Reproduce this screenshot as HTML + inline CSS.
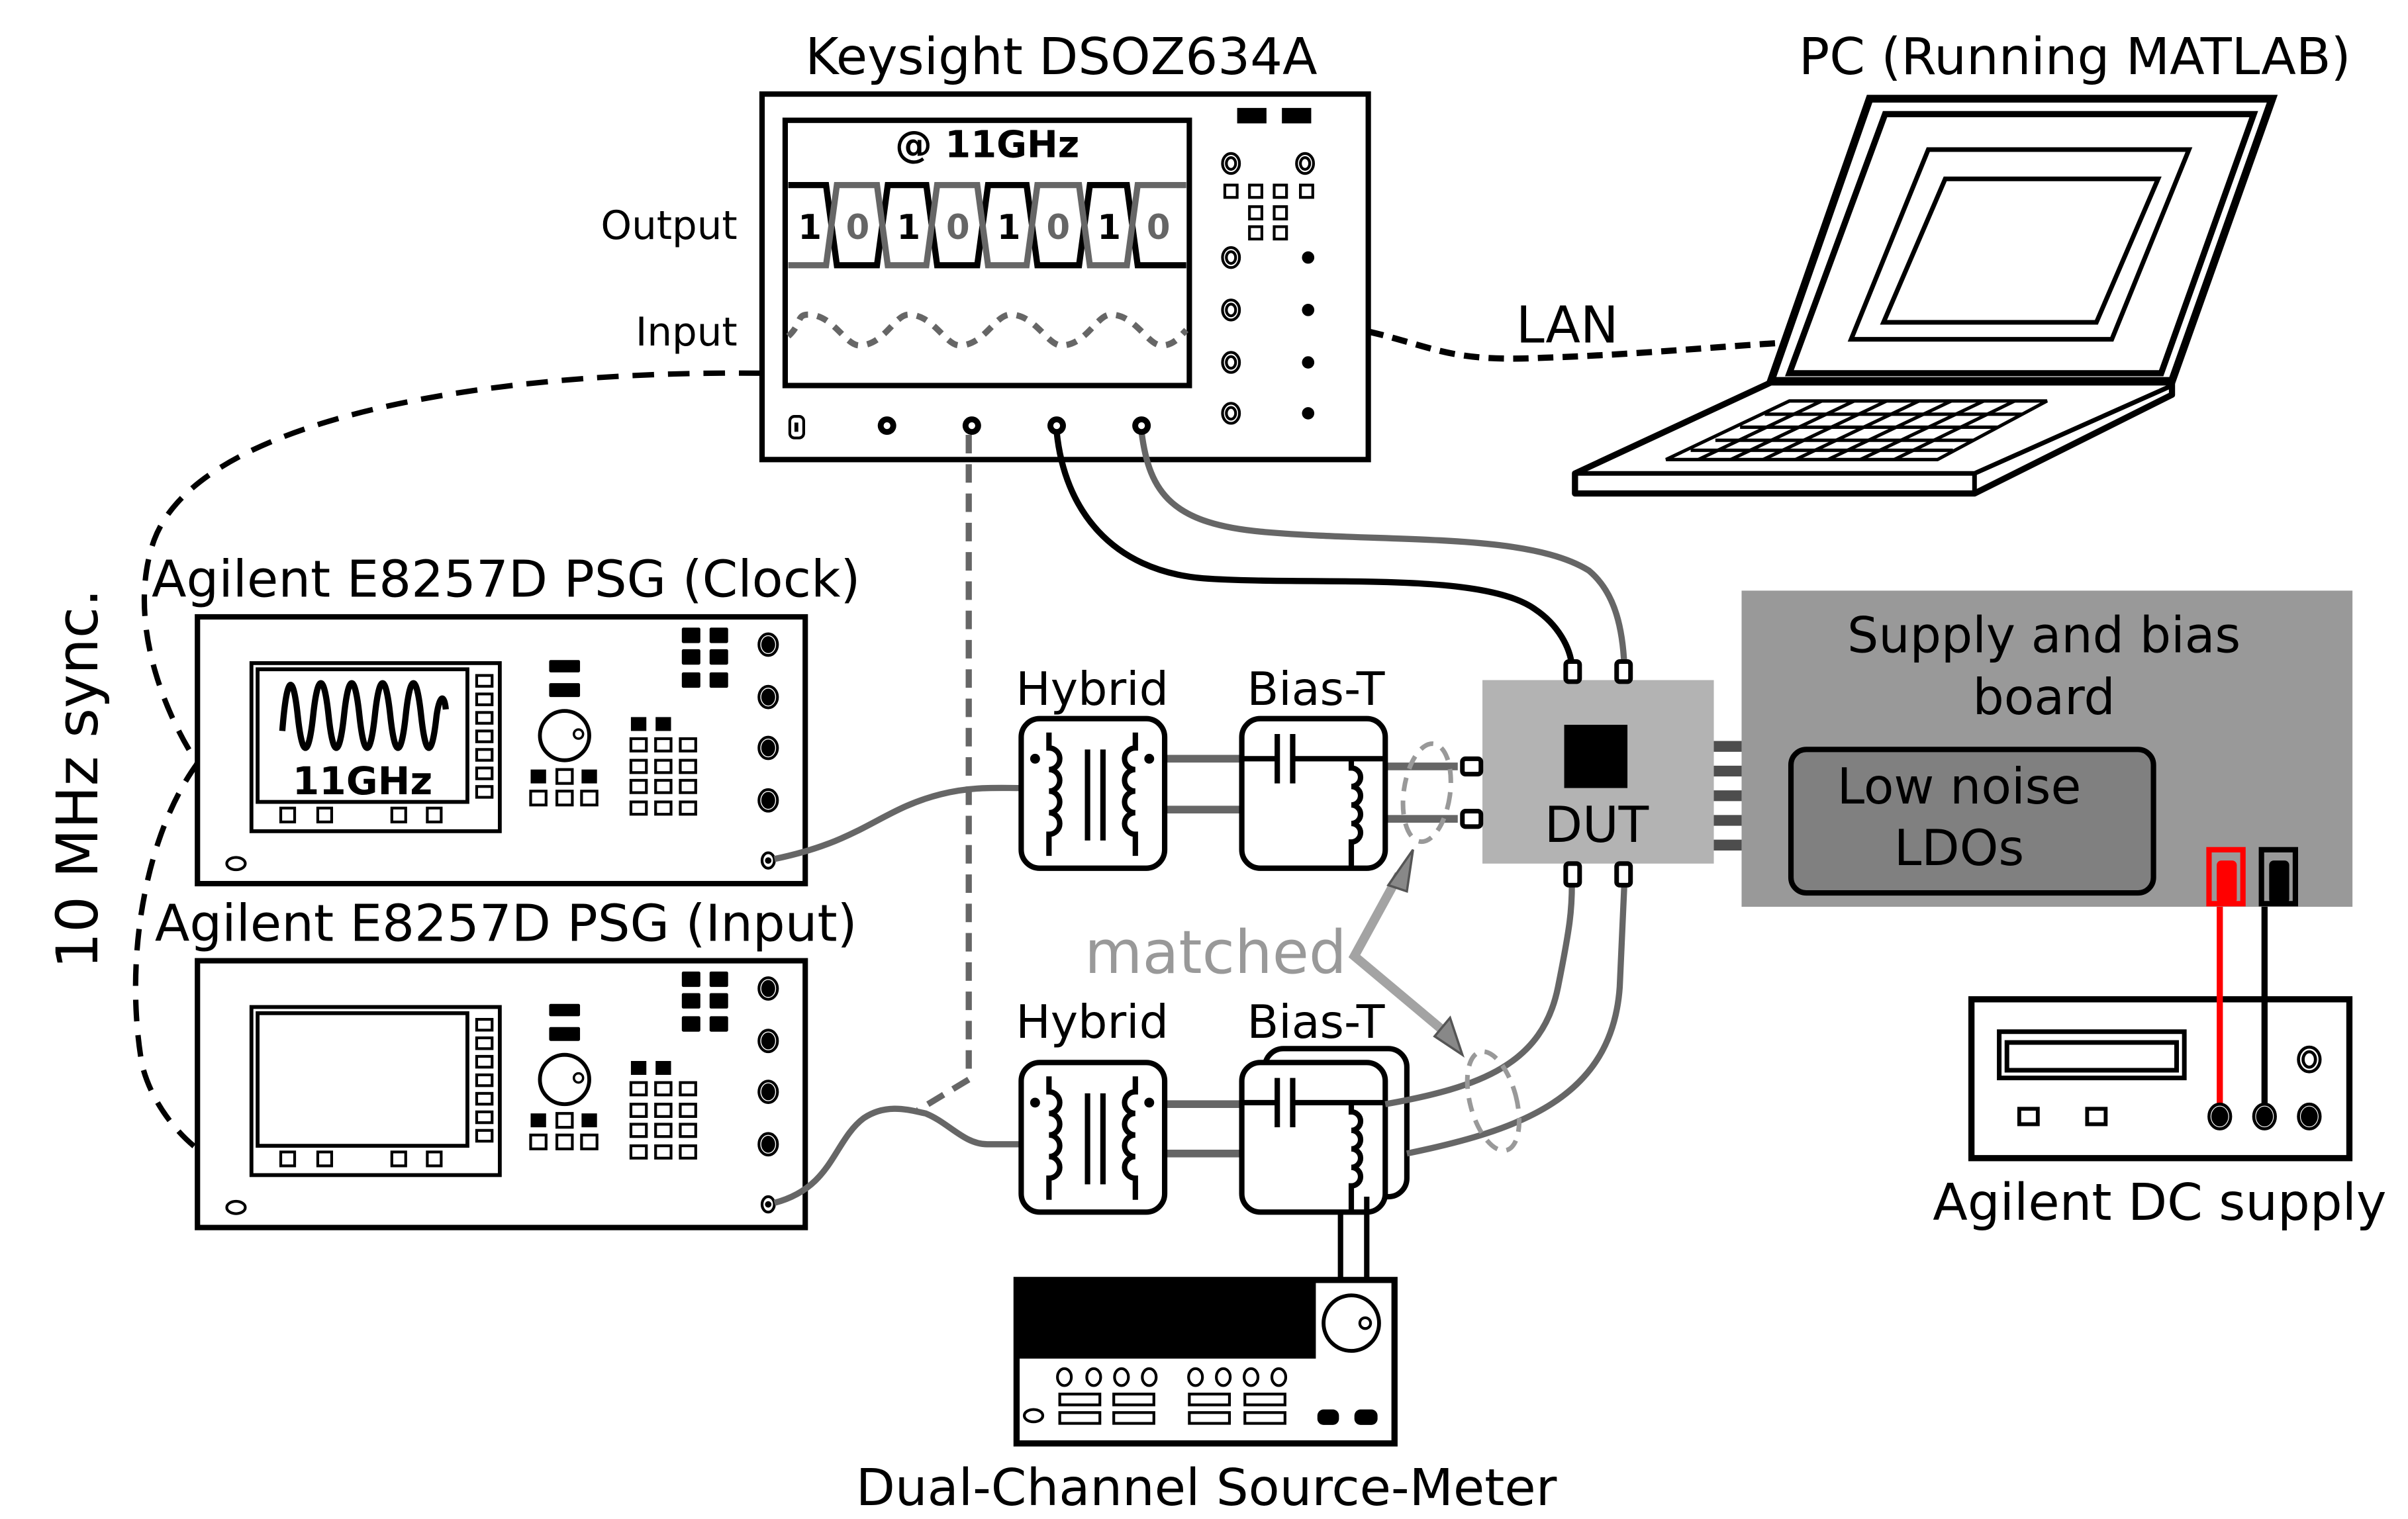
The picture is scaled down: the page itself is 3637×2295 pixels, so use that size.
<!DOCTYPE html>
<html><head><meta charset="utf-8"><style>
html,body{margin:0;padding:0;background:#fff;}
svg{display:block;}
text{font-family:"DejaVu Sans","Liberation Sans",sans-serif;}
</style></head><body>
<svg xmlns="http://www.w3.org/2000/svg" width="3637" height="2295" viewBox="0 0 1561 985">
<defs>
<g id="psgbase">
  <rect x="0" y="0" width="394" height="173" fill="#fff" stroke="#000" stroke-width="3.5"/>
  <rect x="35" y="30" width="161" height="109" fill="#fff" stroke="#000" stroke-width="2.5"/>
  <rect x="39" y="34" width="136" height="86" fill="#fff" stroke="#000" stroke-width="2.5"/>
  <g fill="#fff" stroke="#000" stroke-width="1.8">
    <rect x="181" y="38" width="10" height="7"/><rect x="181" y="50" width="10" height="7"/>
    <rect x="181" y="62" width="10" height="7"/><rect x="181" y="74" width="10" height="7"/>
    <rect x="181" y="86" width="10" height="7"/><rect x="181" y="98" width="10" height="7"/>
    <rect x="181" y="110" width="10" height="7"/>
    <rect x="54" y="124" width="9" height="9"/><rect x="78" y="124" width="9" height="9"/>
    <rect x="126" y="124" width="9" height="9"/><rect x="149" y="124" width="9" height="9"/>
    <rect x="233" y="99" width="10" height="9"/>
    <rect x="216" y="113" width="10" height="9"/><rect x="233" y="113" width="10" height="9"/><rect x="249" y="113" width="10" height="9"/>
    <rect x="281" y="79" width="10" height="8"/><rect x="297" y="79" width="10" height="8"/><rect x="313" y="79" width="10" height="8"/>
    <rect x="281" y="93" width="10" height="8"/><rect x="297" y="93" width="10" height="8"/><rect x="313" y="93" width="10" height="8"/>
    <rect x="281" y="106" width="10" height="8"/><rect x="297" y="106" width="10" height="8"/><rect x="313" y="106" width="10" height="8"/>
    <rect x="281" y="120" width="10" height="8"/><rect x="297" y="120" width="10" height="8"/><rect x="313" y="120" width="10" height="8"/>
  </g>
  <g fill="#000">
    <rect x="228" y="28" width="20" height="8" rx="1"/><rect x="228" y="43" width="20" height="9" rx="1"/>
    <rect x="216" y="99" width="10" height="9"/><rect x="249" y="99" width="10" height="9"/>
    <rect x="281" y="65" width="10" height="9"/><rect x="297" y="65" width="10" height="9"/>
    <rect x="314" y="7" width="12" height="10" rx="1"/><rect x="332" y="7" width="12" height="10" rx="1"/>
    <rect x="314" y="21" width="12" height="10" rx="1"/><rect x="332" y="21" width="12" height="10" rx="1"/>
    <rect x="314" y="36" width="12" height="10" rx="1"/><rect x="332" y="36" width="12" height="10" rx="1"/>
  </g>
  <ellipse cx="238" cy="77" rx="16" ry="16" fill="#fff" stroke="#000" stroke-width="2.5"/>
  <circle cx="247" cy="76" r="3" fill="#fff" stroke="#000" stroke-width="1.5"/>
  <g stroke="#000" fill="#000">
    <ellipse cx="370" cy="18" rx="6" ry="7" fill="#fff" stroke-width="1.8"/><ellipse cx="370" cy="18" rx="4" ry="5"/>
    <ellipse cx="370" cy="52" rx="6" ry="7" fill="#fff" stroke-width="1.8"/><ellipse cx="370" cy="52" rx="4" ry="5"/>
    <ellipse cx="370" cy="85" rx="6" ry="7" fill="#fff" stroke-width="1.8"/><ellipse cx="370" cy="85" rx="4" ry="5"/>
    <ellipse cx="370" cy="119" rx="6" ry="7" fill="#fff" stroke-width="1.8"/><ellipse cx="370" cy="119" rx="4" ry="5"/>
    <ellipse cx="370" cy="158" rx="4" ry="5" fill="#fff" stroke-width="1.8"/><circle cx="370" cy="158" r="1.6"/>
  </g>
  <ellipse cx="25" cy="160" rx="6" ry="4" fill="#fff" stroke="#000" stroke-width="1.8"/>
</g>
<g id="hybrid">
  <rect x="0" y="0" width="93" height="97" rx="12" fill="#fff" stroke="#000" stroke-width="3.5"/>
  <path d="M18,9 V19 a7,7 0 0 1 0,14 a7,7 0 0 1 0,14 a7,7 0 0 1 0,14 a7,7 0 0 1 0,14 V89" fill="none" stroke="#000" stroke-width="3.5"/>
  <path d="M74,9 V19 a7,7 0 0 0 0,14 a7,7 0 0 0 0,14 a7,7 0 0 0 0,14 a7,7 0 0 0 0,14 V89" fill="none" stroke="#000" stroke-width="3.5"/>
  <circle cx="9" cy="26" r="3.2" fill="#000"/><circle cx="83" cy="26" r="3.2" fill="#000"/>
  <line x1="43" y1="20" x2="43" y2="79" stroke="#000" stroke-width="3.5"/>
  <line x1="53" y1="20" x2="53" y2="79" stroke="#000" stroke-width="3.5"/>
</g>
<g id="biast">
  <rect x="0" y="0" width="93" height="97" rx="12" fill="#fff" stroke="#000" stroke-width="3.5"/>
  <path d="M0,26 H23 M34,26 H93" stroke="#000" stroke-width="3.5"/>
  <line x1="23" y1="10" x2="23" y2="42" stroke="#000" stroke-width="3.5"/>
  <line x1="33" y1="10" x2="33" y2="42" stroke="#000" stroke-width="3.5"/>
  <path d="M71,26 V32 a6,6 0 0 1 0,12 a6,6 0 0 1 0,12 a6,6 0 0 1 0,12 a6,6 0 0 1 0,12 V97" fill="none" stroke="#000" stroke-width="3.5"/>
</g>
</defs>

<!-- Titles -->
<g font-size="33" text-anchor="middle" fill="#000">
  <text x="688" y="48">Keysight DSOZ634A</text>
  <text x="1345" y="48">PC (Running MATLAB)</text>
  <text x="328" y="387">Agilent E8257D PSG (Clock)</text>
  <text x="328" y="610">Agilent E8257D PSG (Input)</text>
  <text x="1400" y="791">Agilent DC supply</text>
  <text x="782" y="976">Dual-Channel Source-Meter</text>
  <text x="1016" y="222">LAN</text>
</g>
<g font-size="30" text-anchor="middle" fill="#000">
  <text x="708" y="457">Hybrid</text>
  <text x="853" y="457">Bias-T</text>
  <text x="708" y="673">Hybrid</text>
  <text x="853" y="673">Bias-T</text>
</g>
<g font-size="25.5" text-anchor="end"><text x="478" y="155">Output</text><text x="478" y="224">Input</text></g>
<text transform="translate(63,505) rotate(-90)" font-size="37" text-anchor="middle">10 MHz sync.</text>

<!-- sync dashed -->
<path d="M493,242 C320,240 130,270 100,350 C82,400 105,460 128,495 M128,495 C95,540 80,620 92,690 C98,715 115,735 128,745" fill="none" stroke="#000" stroke-width="3.5" stroke-dasharray="14,9"/>

<!-- LAN dashed -->
<path d="M887,215 C930,225 940,235 1000,232 C1060,230 1110,225 1160,222" fill="none" stroke="#000" stroke-width="4" stroke-dasharray="10,6"/>

<!-- Scope -->
<rect x="494" y="61" width="393" height="237" fill="#fff" stroke="#000" stroke-width="3.5"/>
<rect x="509" y="78" width="262" height="172" fill="#fff" stroke="#000" stroke-width="3.5"/>
<text x="640" y="102" font-size="24" font-weight="bold" text-anchor="middle">@ 11GHz</text>
<polyline points="511,120 535.5,120 542.5,172 568.5,172 575.5,120 600.5,120 607.5,172 633.5,172 640.5,120 665.5,120 672.5,172 699.5,172 706.5,120 730.5,120 737.5,172 769,172" fill="none" stroke="#000" stroke-width="4"/>
<polyline points="511,172 535.5,172 542.5,120 568.5,120 575.5,172 600.5,172 607.5,120 633.5,120 640.5,172 665.5,172 672.5,120 699.5,120 706.5,172 730.5,172 737.5,120 769,120" fill="none" stroke="#666" stroke-width="4"/>
<g font-size="22" font-weight="bold" text-anchor="middle">
  <text x="525" y="155" fill="#000">1</text><text x="556" y="155" fill="#666">0</text>
  <text x="589" y="155" fill="#000">1</text><text x="621" y="155" fill="#666">0</text>
  <text x="654" y="155" fill="#000">1</text><text x="686" y="155" fill="#666">0</text>
  <text x="719" y="155" fill="#000">1</text><text x="751" y="155" fill="#666">0</text>
</g>
<path d="M511,218 C520,210 516,204 524,204 C540,204 548,224 557,224 C573,224 580,204 589,204 C605,204 613,224 622,224 C638,224 645,204 655,204 C671,204 679,224 688,224 C704,224 711,204 720,204 C736,204 744,224 753,224 C761,224 765,218 769,214" fill="none" stroke="#666" stroke-width="4" stroke-dasharray="7,6"/>
<rect x="802" y="70" width="19" height="10" fill="#000"/><rect x="831" y="70" width="19" height="10" fill="#000"/>
<g fill="#fff" stroke="#000" stroke-width="1.8">
  <ellipse cx="798" cy="106" rx="5.5" ry="6.5"/><ellipse cx="798" cy="106" rx="3" ry="3.8"/>
  <ellipse cx="846" cy="106" rx="5.5" ry="6.5"/><ellipse cx="846" cy="106" rx="3" ry="3.8"/>
  <ellipse cx="798" cy="167" rx="5.5" ry="6.5"/><ellipse cx="798" cy="167" rx="3" ry="3.8"/>
  <ellipse cx="798" cy="201" rx="5.5" ry="6.5"/><ellipse cx="798" cy="201" rx="3" ry="3.8"/>
  <ellipse cx="798" cy="235" rx="5.5" ry="6.5"/><ellipse cx="798" cy="235" rx="3" ry="3.8"/>
  <ellipse cx="798" cy="268" rx="5.5" ry="6.5"/><ellipse cx="798" cy="268" rx="3" ry="3.8"/>
  <rect x="794" y="120" width="8" height="8"/><rect x="810" y="120" width="8" height="8"/><rect x="826" y="120" width="8" height="8"/><rect x="843" y="120" width="8" height="8"/>
  <rect x="810" y="134" width="8" height="8"/><rect x="826" y="134" width="8" height="8"/>
  <rect x="810" y="147" width="8" height="8"/><rect x="826" y="147" width="8" height="8"/>
  <rect x="512" y="270" width="9" height="14" rx="3"/>
</g>
<g fill="#000"><circle cx="848" cy="167" r="4"/><circle cx="848" cy="201" r="4"/><circle cx="848" cy="235" r="4"/><circle cx="848" cy="268" r="4"/>
<rect x="515" y="274" width="2.5" height="6"/></g>

<!-- scope cables -->
<path d="M628,282 V700 L595,720" fill="none" stroke="#666" stroke-width="4" stroke-dasharray="12,7"/>
<path d="M685,280 C690,330 720,370 780,375 C850,380 960,370 995,395 C1010,405 1018,420 1019,432" fill="none" stroke="#000" stroke-width="4"/>
<path d="M740,280 C745,320 760,340 820,345 C900,352 990,345 1030,370 C1048,385 1052,410 1053,432" fill="none" stroke="#666" stroke-width="4"/>
<g fill="#000"><circle cx="575" cy="276" r="6"/><circle cx="630" cy="276" r="6"/><circle cx="685" cy="276" r="6"/><circle cx="740" cy="276" r="6"/></g>
<g fill="#fff"><circle cx="575" cy="276" r="2.2"/><circle cx="630" cy="276" r="2.2"/><circle cx="685" cy="276" r="2.2"/><circle cx="740" cy="276" r="2.2"/></g>

<!-- Laptop -->
<polygon points="1212,64 1473,64 1408,247 1148,247" fill="#fff" stroke="#000" stroke-width="5"/>
<polygon points="1222,74 1461,74 1401,242 1160,242" fill="none" stroke="#000" stroke-width="4"/>
<polygon points="1250,97 1419,97 1369,220 1200,220" fill="none" stroke="#000" stroke-width="3"/>
<polygon points="1261,116 1399,116 1359,209 1221,209" fill="none" stroke="#000" stroke-width="3"/>
<polygon points="1148,248 1408,248 1408,256 1280,320 1021,320 1021,307" fill="#fff" stroke="#000" stroke-width="4" stroke-linejoin="round"/>
<polyline points="1021,307 1280,307 1408,250" fill="none" stroke="#000" stroke-width="3"/>
<line x1="1280" y1="307" x2="1280" y2="320" stroke="#000" stroke-width="3"/>
<g stroke="#000" stroke-width="2.2" fill="none">
  <polygon points="1160,260 1327,260 1256,298 1080,298"/>
  <line x1="1144" y1="268.6" x2="1311" y2="268.6"/><line x1="1128" y1="277" x2="1295" y2="277"/>
  <line x1="1112" y1="285.5" x2="1279" y2="285.5"/><line x1="1096" y1="292" x2="1266" y2="292"/>
  <line x1="1181" y1="260" x2="1101" y2="298"/><line x1="1202" y1="260" x2="1122" y2="298"/>
  <line x1="1223" y1="260" x2="1143" y2="298"/><line x1="1244" y1="260" x2="1164" y2="298"/>
  <line x1="1265" y1="260" x2="1185" y2="298"/><line x1="1286" y1="260" x2="1206" y2="298"/>
  <line x1="1306" y1="260" x2="1228" y2="298"/>
</g>

<!-- PSGs -->
<use href="#psgbase" x="128" y="400"/>
<use href="#psgbase" x="128" y="623"/>
<path d="M183,474 C186,436 190,436 193,464 C196,492 200,492 203,464 C206,436 210,436 213,464 C216,492 220,492 223,464 C226,436 230,436 233,464 C236,492 240,492 243,464 C246,436 250,436 253,464 C256,492 260,492 263,464 C266,436 270,436 273,464 C276,492 280,492 283,464 C285,450 288,450 289,460" fill="none" stroke="#000" stroke-width="4"/>
<text x="235" y="515" font-size="25" font-weight="bold" text-anchor="middle">11GHz</text>

<!-- PSG cables -->
<path d="M502,557 C560,545 570,525 610,515 C630,510 645,511 662,511" fill="none" stroke="#666" stroke-width="4"/>
<path d="M502,780 C540,770 540,740 560,725 C575,715 590,720 600,722 C615,728 625,742 640,742 L662,742" fill="none" stroke="#666" stroke-width="4"/>

<!-- Hybrids / Bias-Ts -->
<g stroke="#666" stroke-width="5">
  <line x1="755" y1="492" x2="805" y2="492"/><line x1="755" y1="525" x2="805" y2="525"/>
  <line x1="755" y1="716" x2="805" y2="716"/><line x1="755" y1="748" x2="805" y2="748"/>
  <line x1="898" y1="497" x2="945" y2="497"/><line x1="898" y1="531" x2="945" y2="531"/>
</g>
<use href="#hybrid" x="662" y="466"/>
<use href="#hybrid" x="662" y="689"/>
<use href="#biast" x="805" y="466"/>
<rect x="820" y="680" width="92" height="96" rx="12" fill="#fff" stroke="#000" stroke-width="3.5"/>
<use href="#biast" x="805" y="689"/>
<line x1="869" y1="786" x2="869" y2="832" stroke="#000" stroke-width="3.5"/>
<line x1="886" y1="776" x2="886" y2="832" stroke="#000" stroke-width="3.5"/>
<!-- lower cables to DUT -->
<path d="M898,716 C960,705 1000,690 1010,640 C1018,600 1019,590 1019,573" fill="none" stroke="#666" stroke-width="4"/>
<path d="M912,748 C985,733 1045,712 1050,640 L1053,573" fill="none" stroke="#666" stroke-width="4"/>

<!-- Supply board -->
<rect x="1129" y="383" width="396" height="205" fill="#999"/>
<g stroke="#4d4d4d" stroke-width="7"><line x1="1108" y1="484" x2="1129" y2="484"/><line x1="1108" y1="500" x2="1129" y2="500"/><line x1="1108" y1="516" x2="1129" y2="516"/><line x1="1108" y1="532" x2="1129" y2="532"/><line x1="1108" y1="548" x2="1129" y2="548"/></g>
<text x="1325" y="423" font-size="32" text-anchor="middle">Supply and bias</text>
<text x="1325" y="463" font-size="32" text-anchor="middle">board</text>
<rect x="1161" y="486" width="235" height="93" rx="10" fill="#808080" stroke="#000" stroke-width="3.5"/>
<text x="1270" y="521" font-size="32" text-anchor="middle">Low noise</text>
<text x="1270" y="561" font-size="32" text-anchor="middle">LDOs</text>
<rect x="1432" y="551" width="22" height="35" fill="none" stroke="#f00" stroke-width="3.5"/>
<rect x="1437" y="558" width="13" height="28" rx="3" fill="#f00"/>
<rect x="1466" y="551" width="22" height="35" fill="none" stroke="#000" stroke-width="3.5"/>
<rect x="1471" y="558" width="13" height="28" rx="3" fill="#000"/>

<!-- DC supply -->
<rect x="1278" y="648" width="245" height="103" fill="#fff" stroke="#000" stroke-width="4"/>
<rect x="1296" y="669" width="120" height="30" fill="none" stroke="#000" stroke-width="3"/>
<rect x="1301" y="676" width="110" height="18" fill="none" stroke="#000" stroke-width="3"/>
<rect x="1309" y="719" width="12" height="10" fill="none" stroke="#000" stroke-width="2.5"/>
<rect x="1353" y="719" width="12" height="10" fill="none" stroke="#000" stroke-width="2.5"/>
<line x1="1439" y1="588" x2="1439" y2="722" stroke="#f00" stroke-width="4"/>
<line x1="1468" y1="588" x2="1468" y2="722" stroke="#000" stroke-width="4"/>
<g stroke="#000" stroke-width="2"><ellipse cx="1439" cy="724" rx="7" ry="8" fill="#fff"/><ellipse cx="1439" cy="724" rx="4.5" ry="5.5" fill="#000"/>
<ellipse cx="1468" cy="724" rx="7" ry="8" fill="#fff"/><ellipse cx="1468" cy="724" rx="4.5" ry="5.5" fill="#000"/>
<ellipse cx="1497" cy="724" rx="7" ry="8" fill="#fff"/><ellipse cx="1497" cy="724" rx="4.5" ry="5.5" fill="#000"/>
<ellipse cx="1497" cy="687" rx="7" ry="8" fill="#fff"/><ellipse cx="1497" cy="687" rx="4" ry="5" fill="#fff"/></g>

<!-- DUT -->
<rect x="961" y="441" width="150" height="119" fill="#b3b3b3"/>
<rect x="1014" y="470" width="41" height="41" fill="#000"/>
<text x="1035" y="546" font-size="32" text-anchor="middle">DUT</text>
<g fill="#fff" stroke="#000" stroke-width="3">
  <rect x="1015" y="429" width="9" height="13" rx="2"/><rect x="1048" y="429" width="9" height="13" rx="2"/>
  <rect x="1015" y="560" width="9" height="14" rx="2"/><rect x="1048" y="560" width="9" height="14" rx="2"/>
  <rect x="948" y="492" width="12" height="10" rx="2"/><rect x="948" y="526" width="12" height="10" rx="2"/>
</g>

<!-- matched -->
<g fill="none" stroke="#999" stroke-width="3" stroke-dasharray="9,6">
  <ellipse cx="925" cy="514" rx="15" ry="32" transform="rotate(8 925 514)"/>
  <ellipse cx="968" cy="714" rx="15" ry="33" transform="rotate(-15 968 714)"/>
</g>
<text x="788" y="631" font-size="38.5" fill="#999" text-anchor="middle">matched</text>
<g stroke="#999" stroke-width="6" stroke-opacity="0.9" fill="none">
  <polyline points="907,567 878,620 940,672"/>
</g>
<polygon points="916,551 900,574 912,578" fill="#888" stroke="#555" stroke-width="1.5"/>
<polygon points="948,684 930,672 940,660" fill="#888" stroke="#555" stroke-width="1.5"/>

<!-- Source meter -->
<rect x="659" y="830" width="245" height="106" fill="#fff" stroke="#000" stroke-width="4"/>
<rect x="659" y="830" width="194" height="51" fill="#000"/>
<ellipse cx="876" cy="858" rx="18" ry="18" fill="#fff" stroke="#000" stroke-width="2.5"/>
<circle cx="885" cy="858" r="3.5" fill="#fff" stroke="#000" stroke-width="1.8"/>
<g fill="#fff" stroke="#000" stroke-width="1.8">
  <ellipse cx="690" cy="893" rx="4.5" ry="5.5"/><ellipse cx="709" cy="893" rx="4.5" ry="5.5"/><ellipse cx="727" cy="893" rx="4.5" ry="5.5"/><ellipse cx="745" cy="893" rx="4.5" ry="5.5"/>
  <ellipse cx="775" cy="893" rx="4.5" ry="5.5"/><ellipse cx="793" cy="893" rx="4.5" ry="5.5"/><ellipse cx="811" cy="893" rx="4.5" ry="5.5"/><ellipse cx="829" cy="893" rx="4.5" ry="5.5"/>
  <rect x="687" y="904" width="26" height="7"/><rect x="722" y="904" width="26" height="7"/><rect x="771" y="904" width="26" height="7"/><rect x="807" y="904" width="26" height="7"/>
  <rect x="687" y="916" width="26" height="7"/><rect x="722" y="916" width="26" height="7"/><rect x="771" y="916" width="26" height="7"/><rect x="807" y="916" width="26" height="7"/>
  <ellipse cx="670" cy="918" rx="6" ry="4"/>
</g>
<rect x="854" y="914" width="14" height="10" rx="4" fill="#000"/><rect x="878" y="914" width="15" height="10" rx="4" fill="#000"/>
</svg>
</body></html>
